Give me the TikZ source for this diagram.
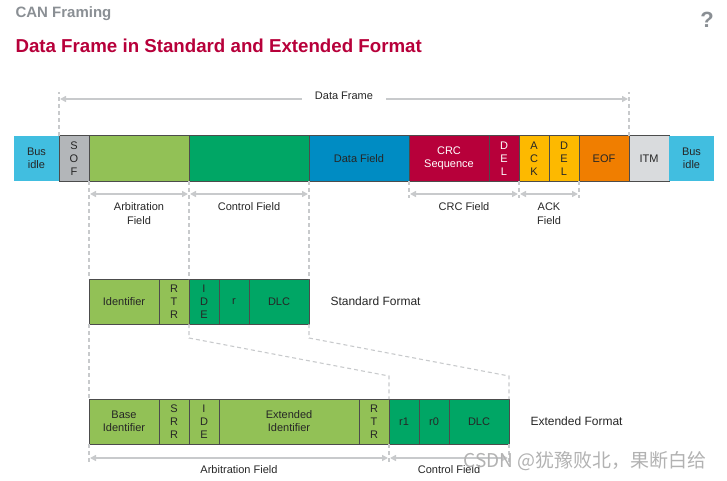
\documentclass[tikz,border=0pt]{standalone}
\usepackage{fontspec}
\setmainfont{Liberation Sans}
\newfontfamily\cjkfont{Noto Sans CJK SC}
\usepackage{tikz}
\usetikzlibrary{positioning}
\usetikzlibrary{arrows.meta}
\usetikzlibrary{calc}
\definecolor{busblue}{HTML}{41BEE0}
\definecolor{sofgray}{HTML}{B3B6B9}
\definecolor{arbgreen}{HTML}{92C156}
\definecolor{ctrlgreen}{HTML}{00A665}
\definecolor{datablue}{HTML}{008CC3}
\definecolor{crcred}{HTML}{B7003A}
\definecolor{ackyellow}{HTML}{FDB900}
\definecolor{eoforange}{HTML}{F07E00}
\definecolor{itmgray}{HTML}{D9DBDD}
\definecolor{guidegray}{HTML}{C8CACC}
\definecolor{headgray}{HTML}{8A8F94}
\tikzstyle{field}=[rectangle,draw=black!70,line width=1pt,inner sep=0pt,outer sep=0pt,minimum height=45pt,anchor=north west,align=center,font=\fontsize{11}{13}\selectfont,text=black!85]
\tikzstyle{guide}=[draw=guidegray,line width=1.1pt,dash pattern=on 4pt off 3pt]
\tikzstyle{dim}=[draw=guidegray,line width=1.4pt,{Triangle[length=6pt,width=6pt]}-{Triangle[length=6pt,width=6pt]},shorten <=1pt,shorten >=1pt]
\tikzstyle{dimlabel}=[font=\fontsize{11}{14}\selectfont,align=center,text=black!85]
\tikzstyle{formatlabel}=[font=\fontsize{12}{14}\selectfont,text=black!85]

\begin{document}
\begin{tikzpicture}[x=1pt,y=-1pt]
    \useasboundingbox (0,0) rectangle (727,481);

    % heading
    \node[anchor=west, text=headgray, font=\bfseries\fontsize{15}{17}\selectfont] (head) at (12,14) {CAN Framing};
    \node[anchor=west, text=crcred, font=\bfseries\fontsize{18.7}{21}\selectfont] (title) at (12,46) {Data Frame in Standard and Extended Format};
    \node[text=headgray, font=\bfseries\fontsize{22}{24}\selectfont] (help) at (707,20) {?};

    % data frame, top row
    \foreach \xa/\xb/\name/\fc/\dc/\tc/\txt in {14/59/idleA/busblue/none/black!85/{Bus\\idle}, 59/89/sof/sofgray/black!70/black!85/{S\\O\\F}, 89/189/arb/arbgreen/black!70/black!85/{}, 189/309/ctrl/ctrlgreen/black!70/black!85/{}, 309/409/data/datablue/black!70/black!85/{Data Field}, 409/489/crc/crcred/black!70/white/{CRC\\Sequence}, 489/519/crcdel/crcred/black!70/white/{D\\E\\L}, 519/549/ack/ackyellow/black!70/black!85/{A\\C\\K}, 549/579/ackdel/ackyellow/black!70/black!85/{D\\E\\L}, 579/629/eof/eoforange/black!70/black!85/{EOF}, 629/669/itm/itmgray/black!70/black!85/{ITM}, 669/714/idleB/busblue/none/black!85/{Bus\\idle}}
    {
        \pgfmathsetmacro\w{\xb-\xa}
        \node[field, fill=\fc, draw=\dc, text=\tc, minimum width=\w pt] (\name) at (\xa,136) {\txt};
    }

    % standard format
    \foreach \xa/\xb/\name/\fc/\txt in {89/159/sid/arbgreen/{Identifier}, 159/189/srtr/arbgreen/{R\\T\\R}, 189/219/side/ctrlgreen/{I\\D\\E}, 219/249/sr/ctrlgreen/{r}, 249/309/sdlc/ctrlgreen/{DLC}}
    {
        \pgfmathsetmacro\w{\xb-\xa}
        \node[field, fill=\fc, minimum width=\w pt] (\name) at (\xa,279) {\txt};
    }
    \node[formatlabel, right=18pt of sdlc] (stdlabel) {Standard Format};

    % extended format
    \foreach \xa/\xb/\name/\fc/\txt in {89/159/eid/arbgreen/{Base\\Identifier}, 159/189/esrr/arbgreen/{S\\R\\R}, 189/219/eide/arbgreen/{I\\D\\E}, 219/359/eext/arbgreen/{Extended\\Identifier}, 359/389/ertr/arbgreen/{R\\T\\R}, 389/419/er1/ctrlgreen/{r1}, 419/449/er0/ctrlgreen/{r0}, 449/509/edlc/ctrlgreen/{DLC}}
    {
        \pgfmathsetmacro\w{\xb-\xa}
        \node[field, fill=\fc, minimum width=\w pt] (\name) at (\xa,399) {\txt};
    }
    \node[formatlabel, right=18pt of edlc] (extlabel) {Extended Format};

    % Data Frame span
    \draw[guide] (sof.north west) -- ++(0,-44);
    \draw[guide] (itm.north west) -- ++(0,-44);
    \coordinate (dfL) at ($(sof.north west)+(0,-37)$);
    \coordinate (dfR) at ($(itm.north west)+(0,-37)$);
    \node[dimlabel, inner xsep=12pt] (dflabel) at (344,96) {Data Frame};
    \draw[dim, -{Triangle[length=6pt,width=6pt]}] (dfL -| dflabel.west) -- (dfL);
    \draw[dim, -{Triangle[length=6pt,width=6pt]}] (dfR -| dflabel.east) -- (dfR);

    % guides between the rows
    \draw[guide] (arb.south west) -- (sid.north west);
    \draw[guide] (sid.south west) -- (eid.north west);
    \draw[guide] (arb.south east) -- (srtr.north east);
    \draw[guide] (ctrl.south east) -- (sdlc.north east);
    \draw[guide] (srtr.south east) -- ++(0,14) -- ($(ertr.north east)+(0,-23)$) -- (ertr.north east);
    \draw[guide] (sdlc.south east) -- ++(0,14) -- ($(edlc.north east)+(0,-23)$) -- (edlc.north east);
    \draw[guide] (crc.south west) -- ++(0,17);
    \draw[guide] (crcdel.south east) -- ++(0,17);
    \draw[guide] (ackdel.south east) -- ++(0,17);
    \draw[guide] (eid.south west) -- ++(0,18);
    \draw[guide] (ertr.south east) -- ++(0,18);
    \draw[guide] (edlc.south east) -- ++(0,18);

    % field spans, top row
    \foreach \left/\right/\label/\txt in {arb/arb/arbspan/{Arbitration\\Field}, ctrl/ctrl/ctrlspan/{Control Field}, crc/crcdel/crcspan/{CRC Field}, ack/ackdel/ackspan/{ACK\\Field}}
    {
        \coordinate (\label L) at ($(\left.south west)+(0,13)$);
        \coordinate (\label R) at ($(\right.south east)+(0,13)$);
        \draw[dim] (\label L) -- (\label R);
        \node[dimlabel, anchor=north] (\label T) at ($(\label L)!0.5!(\label R)+(0,5)$) {\txt};
    }

    % field spans, extended format
    \foreach \left/\right/\label/\txt in {eid/ertr/earbspan/{Arbitration Field}, er1/edlc/ectrlspan/{Control Field}}
    {
        \coordinate (\label L) at ($(\left.south west)+(0,14)$);
        \coordinate (\label R) at ($(\right.south east)+(0,14)$);
        \draw[dim] (\label L) -- (\label R);
        \node[dimlabel, anchor=north] (\label T) at ($(\label L)!0.5!(\label R)+(0,4)$) {\txt};
    }

    \node[text=black!30, font=\cjkfont\fontsize{19}{22}\selectfont] (mark) at (585,461) {CSDN @犹豫败北，果断白给};
\end{tikzpicture}
\end{document}
